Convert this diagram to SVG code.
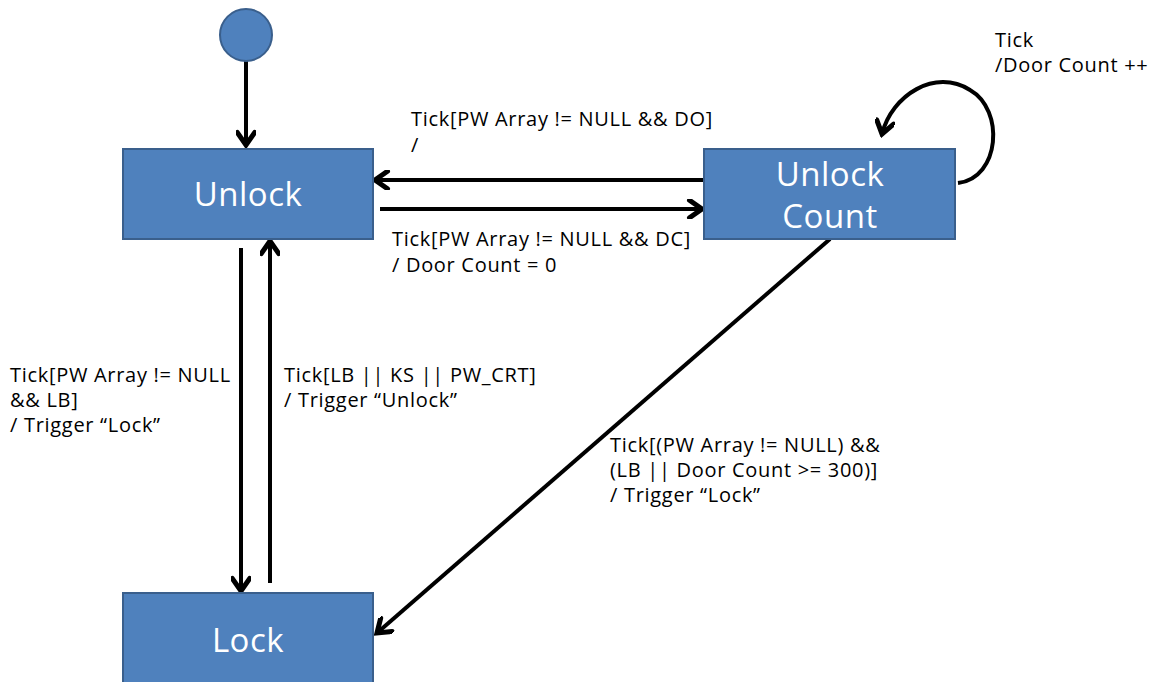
<svg xmlns="http://www.w3.org/2000/svg" width="1159" height="682" viewBox="0 0 1159 682">
<style>
.node{fill:#4F81BD;stroke:#3A5F8C;stroke-width:2}
.nt{font-family:"Open Sans","Noto Sans",sans-serif;font-size:33px;letter-spacing:0.5px;fill:#fff;text-anchor:middle}
.lb{font-family:"Open Sans","Noto Sans",sans-serif;font-size:20px;letter-spacing:0.7px;fill:#000}
.c{fill:none;stroke:#000;stroke-width:4}
</style>
<defs>
<marker id="ah" markerWidth="20" markerHeight="20" viewBox="-12 -8 14 16" refX="0" refY="0" orient="auto" markerUnits="userSpaceOnUse">
<path d="M-10,-7 L0,0 L-10,7" fill="none" stroke="#000" stroke-width="4" stroke-linecap="round"/>
</marker>
</defs>
<rect width="1159" height="682" fill="#fff"/>
<g id="connectors">
<line class="c" x1="246" y1="61" x2="246" y2="145" marker-end="url(#ah)"/>
<line class="c" x1="704" y1="180" x2="375" y2="180" marker-end="url(#ah)"/>
<line class="c" x1="380" y1="209" x2="702" y2="209" marker-end="url(#ah)"/>
<line class="c" x1="241" y1="248" x2="241" y2="591" marker-end="url(#ah)"/>
<line class="c" x1="270" y1="583" x2="270" y2="241" marker-end="url(#ah)"/>
<line class="c" x1="830" y1="239" x2="377" y2="633" marker-end="url(#ah)"/>
<path class="c" d="M958,183 C1000,178 1005,110 970,90 C935,68 892,95 882,134" marker-end="url(#ah)"/>
</g>
<g id="initial"><circle class="node" cx="246" cy="35" r="26"/></g>
<g id="unlock"><rect class="node" x="123" y="149" width="250" height="90"/><text class="nt" x="248" y="206">Unlock</text></g>
<g id="unlockcount"><rect class="node" x="704" y="149" width="251" height="90"/><text class="nt" x="830" y="186">Unlock</text><text class="nt" x="830" y="228">Count</text></g>
<g id="lock"><rect class="node" x="123" y="593" width="250" height="100"/><text class="nt" x="248" y="652">Lock</text></g>
<g id="labels">
<text class="lb" x="411" y="126">Tick[PW Array != NULL &amp;&amp; DO]</text>
<text class="lb" x="411" y="152">/</text>
<text class="lb" x="392" y="246">Tick[PW Array != NULL &amp;&amp; DC]</text>
<text class="lb" x="392" y="272">/ Door Count = 0</text>
<text class="lb" x="10" y="382">Tick[PW Array != NULL</text>
<text class="lb" x="10" y="407">&amp;&amp; LB]</text>
<text class="lb" x="10" y="432">/ Trigger “Lock”</text>
<text class="lb" x="284" y="382">Tick[LB || KS || PW_CRT]</text>
<text class="lb" x="284" y="407">/ Trigger “Unlock”</text>
<text class="lb" x="610" y="452">Tick[(PW Array != NULL) &amp;&amp;</text>
<text class="lb" x="610" y="477">(LB || Door Count  &gt;= 300)]</text>
<text class="lb" x="610" y="502">/ Trigger “Lock”</text>
<text class="lb" x="995" y="47">Tick</text>
<text class="lb" x="995" y="72">/Door Count ++</text>
</g>
</svg>
